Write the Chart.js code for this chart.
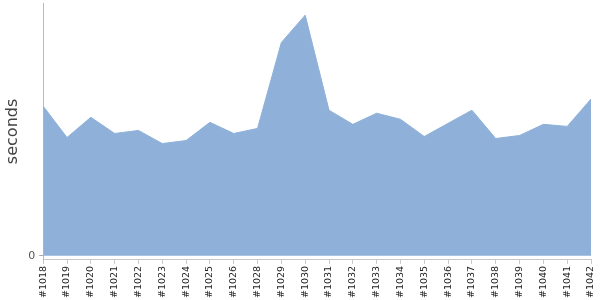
<!DOCTYPE html>
<html>
<head>
<meta charset="utf-8">
<script src="https://cdn.jsdelivr.net/npm/chart.js@4/dist/chart.umd.min.js"></script>
<style>
  html, body { margin: 0; padding: 0; background: #fff; }
  #wrap { width: 600px; height: 300px; }
</style>
</head>
<body>
<div id="wrap"><canvas id="c" width="600" height="300"></canvas></div>
<script>
const builds = ["#1018","#1019","#1020","#1021","#1022","#1023","#1024","#1025","#1026","#1028","#1029","#1030","#1031","#1032","#1033","#1034","#1035","#1036","#1037","#1038","#1039","#1040","#1041","#1042"];
const durations = [148,117,137,121,124,111,114,132,121,126,211,238,144,130,141,135,118,131,144,116,119,130,128,155];
const yTicks = [0];

new Chart(document.getElementById('c'), {
  type: 'line',
  data: {
    labels: builds,
    datasets: [{
      data: durations,
      fill: 'origin',
      backgroundColor: 'rgb(143,177,217)',
      borderColor: 'rgb(143,177,217)',
      borderWidth: 1,
      pointRadius: 0,
      tension: 0
    }]
  },
  options: {
    responsive: false,
    animation: false,
    layout: { padding: { top: 3, right: 9, left: 3, bottom: 0 } },
    plugins: { legend: { display: false }, tooltip: { enabled: false } },
    scales: {
      x: {
        offset: false,
        afterFit: (s) => { s.paddingRight = 0; s.paddingLeft = 0; },
        grid: { drawOnChartArea: false, drawTicks: true, tickLength: 4, color: '#c8c8c8' },
        border: { color: '#c8c8c8' },
        ticks: { minRotation: 90, maxRotation: 90, autoSkip: false, padding: 2,
                 font: { family: 'DejaVu Sans', size: 9.5 }, color: '#222' }
      },
      y: {
        min: -4, max: 250,
        afterBuildTicks: (s) => { s.ticks = yTicks.map(v => ({ value: v })); },
        afterFit: (s) => { s.paddingTop = 0; s.paddingBottom = 0; },
        grid: { drawOnChartArea: false, drawTicks: true, tickLength: 4, color: '#aaa' },
        border: { color: '#bbb' },
        ticks: { font: { family: 'DejaVu Sans', size: 11 }, color: '#555', padding: 4 },
        title: { display: true, text: 'seconds', font: { family: 'DejaVu Sans', size: 16 }, color: '#444', padding: { top: 0, bottom: 2 } }
      }
    }
  }
});
</script>
</body>
</html>
